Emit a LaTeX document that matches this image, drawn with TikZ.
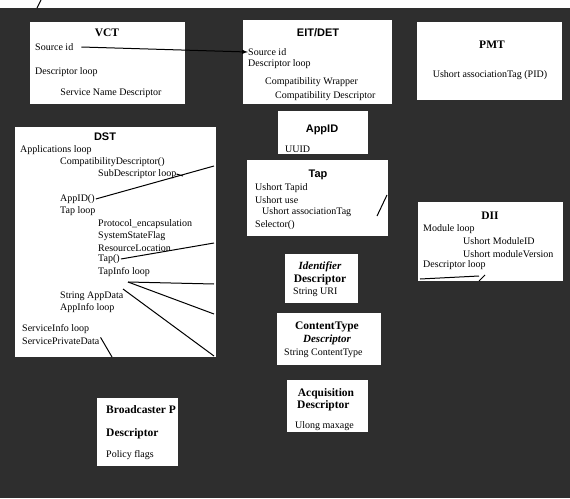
\documentclass[tikz,border=0pt]{standalone}
\usepackage{fontspec}
\setmainfont{Liberation Serif}
\setsansfont{Liberation Sans}
\usetikzlibrary{arrows,calc,positioning}
\tikzset{
  tablebox/.style n args={2}{
    rectangle,
    inner sep=0pt,
    outer sep=0pt,
    fill=white,
    minimum width=#1,
    minimum height=#2,
  },
  txt/.style={
    anchor=west,
    inner sep=0pt,
    font=\fontsize{10}{12}\selectfont
  },
  ctxt/.style={txt, anchor=center},
  ttl/.style={
    inner sep=0pt,
    font=\fontsize{11.5}{13}\selectfont\bfseries
  },
  sttl/.style={ttl, font=\fontsize{11}{13}\selectfont\sffamily\bfseries},
  link/.style={line width=1pt, black},
}
\definecolor{scanbg}{gray}{0.18}
\begin{document}
\begin{tikzpicture}[x=1pt, y=-1pt, >=latex]
    \useasboundingbox (0,0) rectangle (570,498);
    \fill[white] (0,0) rectangle (570,498);
    \fill[scanbg] (0,8) rectangle (570,498);
    \coordinate (m1) at (41,0);
    \coordinate (m2) at (37,8);
    \draw[link] (m1) -- (m2);

    %% Boxes
    \node[tablebox={155pt}{82pt}] (vct) at (107.5,63) {};
    \node[tablebox={149pt}{84pt}] (eit) at (317.5,62) {};
    \node[tablebox={145pt}{78pt}] (pmt) at (489.5,61) {};
    \node[tablebox={201pt}{230pt}] (dst) at (115.5,242) {};
    \node[tablebox={90pt}{43pt}] (appid) at (323,132.5) {};
    \node[tablebox={141pt}{76pt}] (tap) at (317.5,198) {};
    \node[tablebox={73pt}{49pt}] (ident) at (321.5,278.5) {};
    \node[tablebox={104pt}{52pt}] (ctype) at (329,339) {};
    \node[tablebox={81pt}{52pt}] (acq) at (327.5,406) {};
    \node[tablebox={145pt}{79pt}] (dii) at (490.5,241.5) {};
    \node[tablebox={81pt}{68pt}] (bcast) at (137.5,432) {};

    %% VCT
    \node[ttl] (vcttitle) at (107,33) {VCT};
    \node[txt] (vctsrc) at (35,47) {Source id};
    \node[txt] (vctloop) at (35,72) {Descriptor loop};
    \node[ctxt] (vctname) at (111,93) {Service Name Descriptor};

    %% EIT/DET
    \node[sttl] (eittitle) at (318,33) {EIT/DET};
    \node[txt] (eitsrc) at (248,52) {Source id};
    \node[txt] (eitloop) at (248,64) {Descriptor loop};
    \node[txt] (eitwrap) at (265,82) {Compatibility Wrapper};
    \node[txt] (eitcomp) at (275,96) {Compatibility Descriptor};

    %% PMT
    \node[ttl] (pmttitle) at (492,45) {PMT};
    \node[ctxt] (pmttag) at (490,75) {Ushort associationTag (PID)};

    %% DST
    \node[sttl] (dsttitle) at (105,137) {DST};
    \node[txt] (dstapps) at (20,150) {Applications loop};
    \node[txt] (dstcomp) at (60,162) {CompatibilityDescriptor()};
    \node[txt] (dstsub) at (98,174) {SubDescriptor loop};
    \node[txt] (dstappid) at (60,199) {AppID()};
    \node[txt] (dsttaps) at (60,211) {Tap loop};
    \node[txt] (dstproto) at (98,224) {Protocol\_encapsulation};
    \node[txt] (dstflag) at (98,236) {SystemStateFlag};
    \node[txt] (dstres) at (98,248) {ResourceLocation};
    \node[txt] (dsttap) at (98,259) {Tap()};
    \node[txt] (dsttapinfo) at (98,272) {TapInfo loop};
    \node[txt] (dstdata) at (60,296) {String AppData};
    \node[txt] (dstinfo) at (60,308) {AppInfo loop};
    \node[txt] (dstsvc) at (22,329) {ServiceInfo loop};
    \node[txt] (dstpriv) at (22,341) {ServicePrivateData};

    %% AppID and Tap
    \node[sttl] (appidtitle) at (322,130) {AppID};
    \node[txt] (appiduuid) at (285,149) {UUID};
    \node[sttl] (taptitle) at (318,175) {Tap};
    \node[txt] (tapid) at (255,188) {Ushort Tapid};
    \node[txt] (tapuse) at (255,200) {Ushort use};
    \node[txt] (taptag) at (262,212) {Ushort associationTag};
    \node[txt] (tapsel) at (255,225) {Selector()};

    %% Descriptors
    \node[ttl, font=\fontsize{11}{13}\selectfont\bfseries\itshape] (identtitle) at (320,267) {Identifier};
    \node[ttl] (identdesc) at (320,280) {Descriptor};
    \node[txt] (identuri) at (293,292) {String URI};
    \node[ttl] (ctypetitle) at (327,327) {ContentType};
    \node[ttl, font=\fontsize{11}{13}\selectfont\bfseries\itshape] (ctypedesc) at (327,340) {Descriptor};
    \node[txt] (ctypestr) at (284,353) {String ContentType};
    \node[ttl] (acqtitle) at (326,394) {Acquisition};
    \node[ttl, anchor=west] (acqdesc) at (297,406) {Descriptor};
    \node[txt] (acqage) at (295,426) {Ulong maxage};

    %% DII
    \node[ttl] (diititle) at (490,216) {DII};
    \node[txt] (diimod) at (423,229) {Module loop};
    \node[txt] (diiid) at (463,241) {Ushort ModuleID};
    \node[txt] (diiver) at (463,254) {Ushort moduleVersion};
    \node[txt] (diiloop) at (423,265) {Descriptor loop};

    %% Broadcaster
    \node[ttl, anchor=west] (bcasttitle) at (106,410) {Broadcaster P};
    \node[ttl, anchor=west] (bcastdesc) at (106,434) {Descriptor};
    \node[txt] (bcastflags) at (106,455) {Policy flags};

    %% Invisible ends
    \coordinate (subend) at (183,176);
    \coordinate (appidend) at (214,166);
    \coordinate (tapend) at (214,243);
    \coordinate (fork) at (128,282);
    \coordinate (forkone) at (214,284);
    \coordinate (forktwo) at (214,314);
    \coordinate (datastart) at (123,289);
    \coordinate (dataend) at (214,356);
    \coordinate (privend) at (112,357);
    \coordinate (tapmarka) at (377,216);
    \coordinate (tapmarkb) at (387,195);
    \coordinate (diimarka) at (420,279);
    \coordinate (diimarkb) at (479,276);
    \coordinate (diimarkc) at (479,281);
    \coordinate (diimarkd) at (485,275);

    %% Edges
    \draw[link, ->] ([xshift=8pt]vctsrc.east) -- (eitsrc.west);
    \draw[link] (dstsub.east) -- (subend);
    \draw[link] ([xshift=1pt]dstappid.east) -- (appidend);
    \draw[link] ([xshift=1pt]dsttap.east) -- (tapend);
    \draw[link] (fork) -- (forkone);
    \draw[link] (fork) -- (forktwo);
    \draw[link] (datastart) -- (dataend);
    \draw[link] ([xshift=1pt]dstpriv.north east) -- (privend);
    \draw[link] (tapmarka) -- (tapmarkb);
    \draw[link] (diimarka) -- (diimarkb);
    \draw[link] (diimarkc) -- (diimarkd);

  \end{tikzpicture}
\end{document}
